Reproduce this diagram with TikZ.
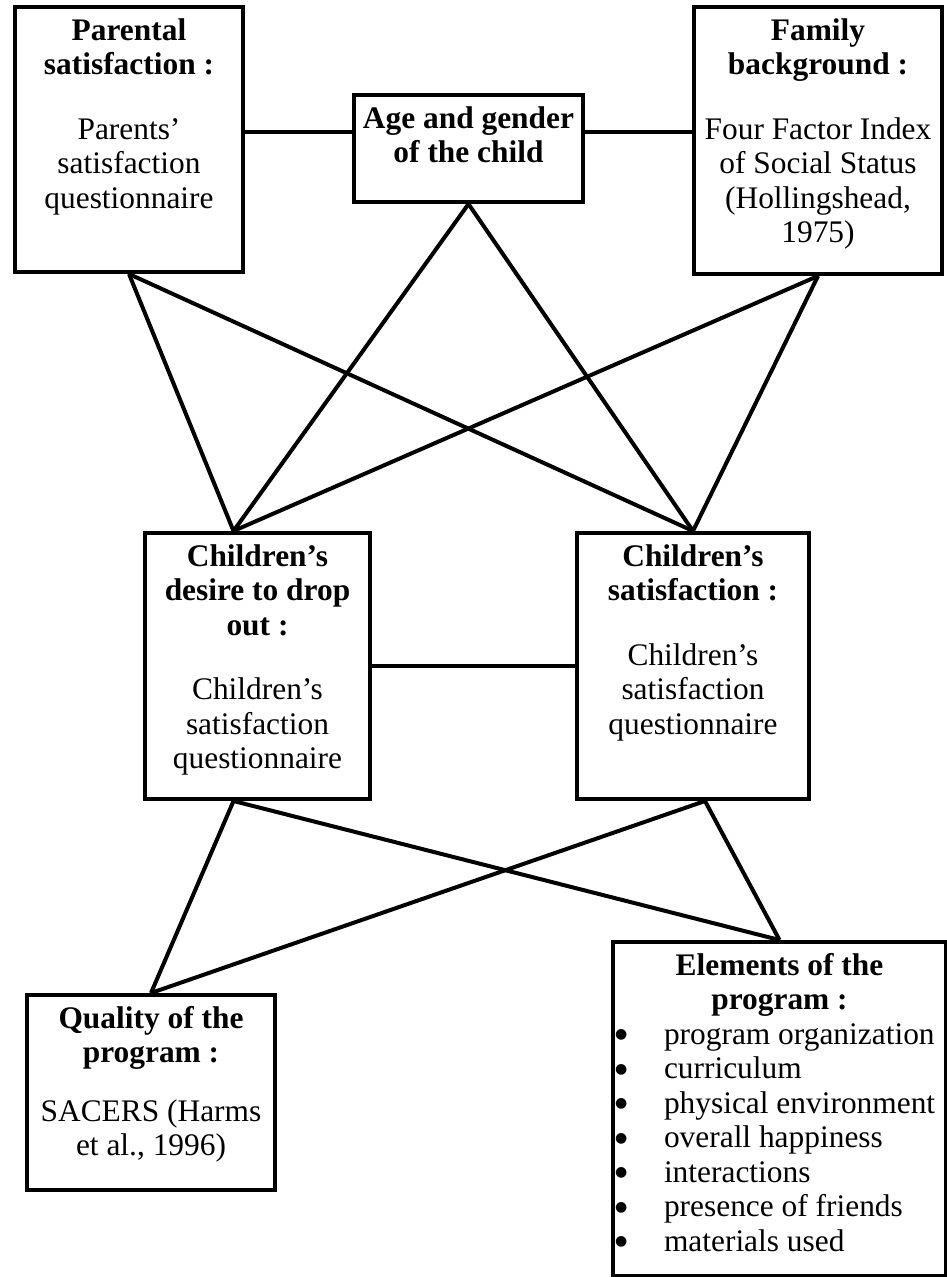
\documentclass[tikz,border=0pt]{standalone}
\usepackage{fontspec}
\setmainfont{Liberation Serif}
\newfontfamily\symfont{DejaVu Sans}

\newcommand{\boxtext}[3]{\parbox[c][#2][t]{#1}{\centering\vspace*{4.5pt}\strut #3}}
\newcommand{\bul}[1]{\makebox[\linewidth][l]{\hspace*{1pt}\makebox[24.5pt][l]{\raisebox{2.6pt}{\symfont\fontsize{7}{8}\selectfont ●}}#1}}

\begin{document}
\begin{tikzpicture}[x=0.5pt, y=-0.5pt,
    mbox/.style={draw, line width=2pt, inner sep=0pt, anchor=north west,
      font=\fontsize{15.7}{17.25}\selectfont},
    link/.style={line width=2pt}]
  \def\gap{15pt}
  \useasboundingbox (0,0) rectangle (946,1277);

  % top row
  \node[mbox] (par) at (13,5) {\boxtext{114pt}{132.5pt}{\textbf{Parental}\\
      \textbf{satisfaction :}\\[\gap] Parents’\\ satisfaction\\ questionnaire}};
  \node[mbox] (age) at (352,93) {\boxtext{114.5pt}{53.5pt}{\textbf{Age and gender}\\
      \textbf{of the child}}};
  \node[mbox] (fam) at (692,5) {\boxtext{124pt}{133.5pt}{\textbf{Family}\\
      \textbf{background :}\\[\gap] Four Factor Index\\ of Social Status\\
      (Hollingshead,\\ 1975)}};

  % middle row
  \node[mbox] (des) at (143,531) {\boxtext{112.5pt}{133pt}{\textbf{Children’s}\\
      \textbf{desire to drop}\\ \textbf{out :}\\[\gap] Children’s\\ satisfaction\\
      questionnaire}};
  \node[mbox] (csat) at (575,531) {\boxtext{116pt}{133pt}{\textbf{Children’s}\\
      \textbf{satisfaction :}\\[\gap] Children’s\\ satisfaction\\ questionnaire}};

  % bottom row
  \node[mbox] (qual) at (25,993) {\boxtext{124pt}{97.5pt}{\textbf{Quality of the}\\
      \textbf{program :}\\[12pt] SACERS (Harms\\ et al., 1996)}};
  \node[mbox] (elem) at (611,940) {\boxtext{166.5pt}{167pt}{\textbf{Elements of the}\\
      \textbf{program :}\\ \bul{program organization}\\ \bul{curriculum}\\
      \bul{physical environment}\\ \bul{overall happiness}\\ \bul{interactions}\\
      \bul{presence of friends}\\ \bul{materials used}}};

  \coordinate (agel) at ([yshift=8pt]age.west);
  \coordinate (ager) at ([yshift=8pt]age.east);
  \coordinate (dtop) at ([xshift=-12pt]des.north);
  \coordinate (dbot) at ([xshift=-12pt]des.south);
  \coordinate (ctop) at (csat.north);
  \coordinate (cbot) at ([xshift=6pt]csat.south);

  \draw[link] (agel) -- (agel -| par.east);
  \draw[link] (ager) -- (ager -| fam.west);
  \draw[link] (des.east) -- (des.east -| csat.west);

  \foreach \a in {par,age,fam}
    \foreach \b in {dtop,ctop}
      \draw[link] (\a.south) -- (\b);

  \foreach \a in {dbot,cbot}
    \foreach \b in {qual,elem}
      \draw[link] (\a) -- (\b.north);
\end{tikzpicture}
\end{document}
